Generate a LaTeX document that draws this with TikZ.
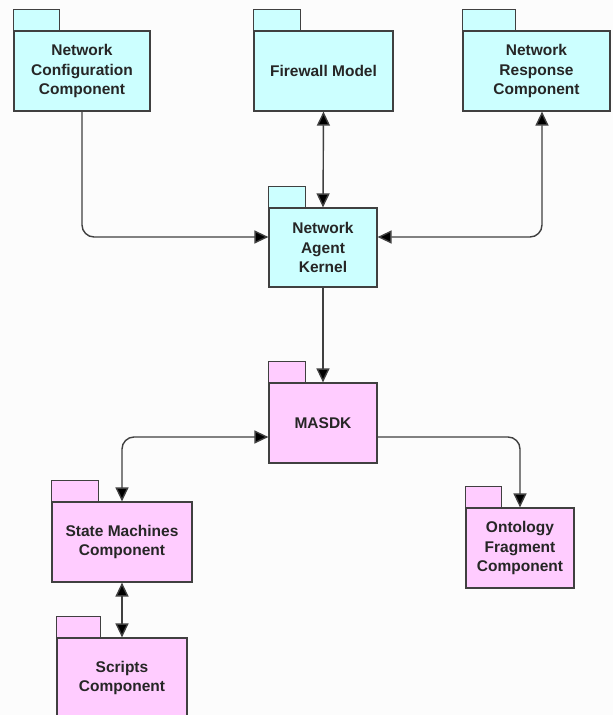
\documentclass[tikz,border=0pt]{standalone}
\usepackage{fontspec}
\setmainfont{Liberation Sans}
\usetikzlibrary{arrows.meta}

\definecolor{pkgcyan}{HTML}{CCFFFF}
\definecolor{pkgpink}{HTML}{FFCCFF}
\definecolor{pkgline}{HTML}{404040}
\definecolor{paper}{HTML}{FCFCFC}

% tab on top of a package: node, width, colour
\newcommand{\pkgtab}[3]{\draw [pkgline,line width=1.2pt,fill=#3] (#1.north west) rectangle ++(#2,-21);}

\begin{document}
\begin{tikzpicture}[x=1pt,y=-1pt]
		\tikzstyle{pkg}=[draw=pkgline,line width=1.2pt,inner sep=0pt,align=center,minimum height=80pt,
			font=\fontsize{15.5}{19.5}\selectfont\bfseries,text=black!85]
		\tikzstyle{link}=[pkgline,line width=1.4pt,rounded corners=12pt]
		\tikzstyle{tip}=[-{Triangle[length=14pt,width=13pt,fill=black]}]
		\tikzstyle{tips}=[{Triangle[length=14pt,width=13pt,fill=black]}-{Triangle[length=14pt,width=13pt,fill=black]}]
		\useasboundingbox (0,0) rectangle (613,715);
		\fill [paper] (0,0) rectangle (613,715);
		\clip (0,0) rectangle (613,715);
		% upper row
		\node [pkg,fill=pkgcyan,minimum width=136pt] (config) at (82,71) {Network\\Configuration\\Component};
		\node [pkg,fill=pkgcyan,minimum width=139pt] (firewall) at (323.5,71) {Firewall Model};
		\node [pkg,fill=pkgcyan,minimum width=147pt] (response) at (536.5,71) {Network\\Response\\Component};
		\node [pkg,fill=pkgcyan,minimum width=108pt,minimum height=79pt] (kernel) at (323,247.5) {Network\\Agent\\Kernel};
		\pkgtab{config}{46}{pkgcyan}
		\pkgtab{firewall}{47}{pkgcyan}
		\pkgtab{response}{53}{pkgcyan}
		\pkgtab{kernel}{37}{pkgcyan}
		% lower part
		\node [pkg,fill=pkgpink,minimum width=108pt] (masdk) at (323,423) {MASDK};
		\node [pkg,fill=pkgpink,minimum width=140pt] (machines) at (122,542) {State Machines\\Component};
		\node [pkg,fill=pkgpink,minimum width=130pt] (scripts) at (122,678) {Scripts\\Component};
		\node [pkg,fill=pkgpink,minimum width=108pt] (ontology) at (520,548) {Ontology\\Fragment\\Component};
		\pkgtab{masdk}{37}{pkgpink}
		\pkgtab{machines}{47}{pkgpink}
		\pkgtab{scripts}{44}{pkgpink}
		\pkgtab{ontology}{36}{pkgpink}
		% connectors
		\draw [link,tip] (config.south) |- ([yshift=10.5pt]kernel.west);
		\draw [link,tips] (firewall.south) -- (kernel.north);
		\draw [link,tips] ([xshift=5.5pt]response.south) |- ([yshift=10.5pt]kernel.east);
		\draw [link,tip] (kernel.south) -- (masdk.north);
		\draw [link,tips] (machines.north) |- ([yshift=-14pt]masdk.west);
		\draw [link,tip] ([yshift=-14pt]masdk.east) -| (ontology.north);
		\draw [link,tips] (machines.south) -- (scripts.north);
	\end{tikzpicture}
\end{document}
